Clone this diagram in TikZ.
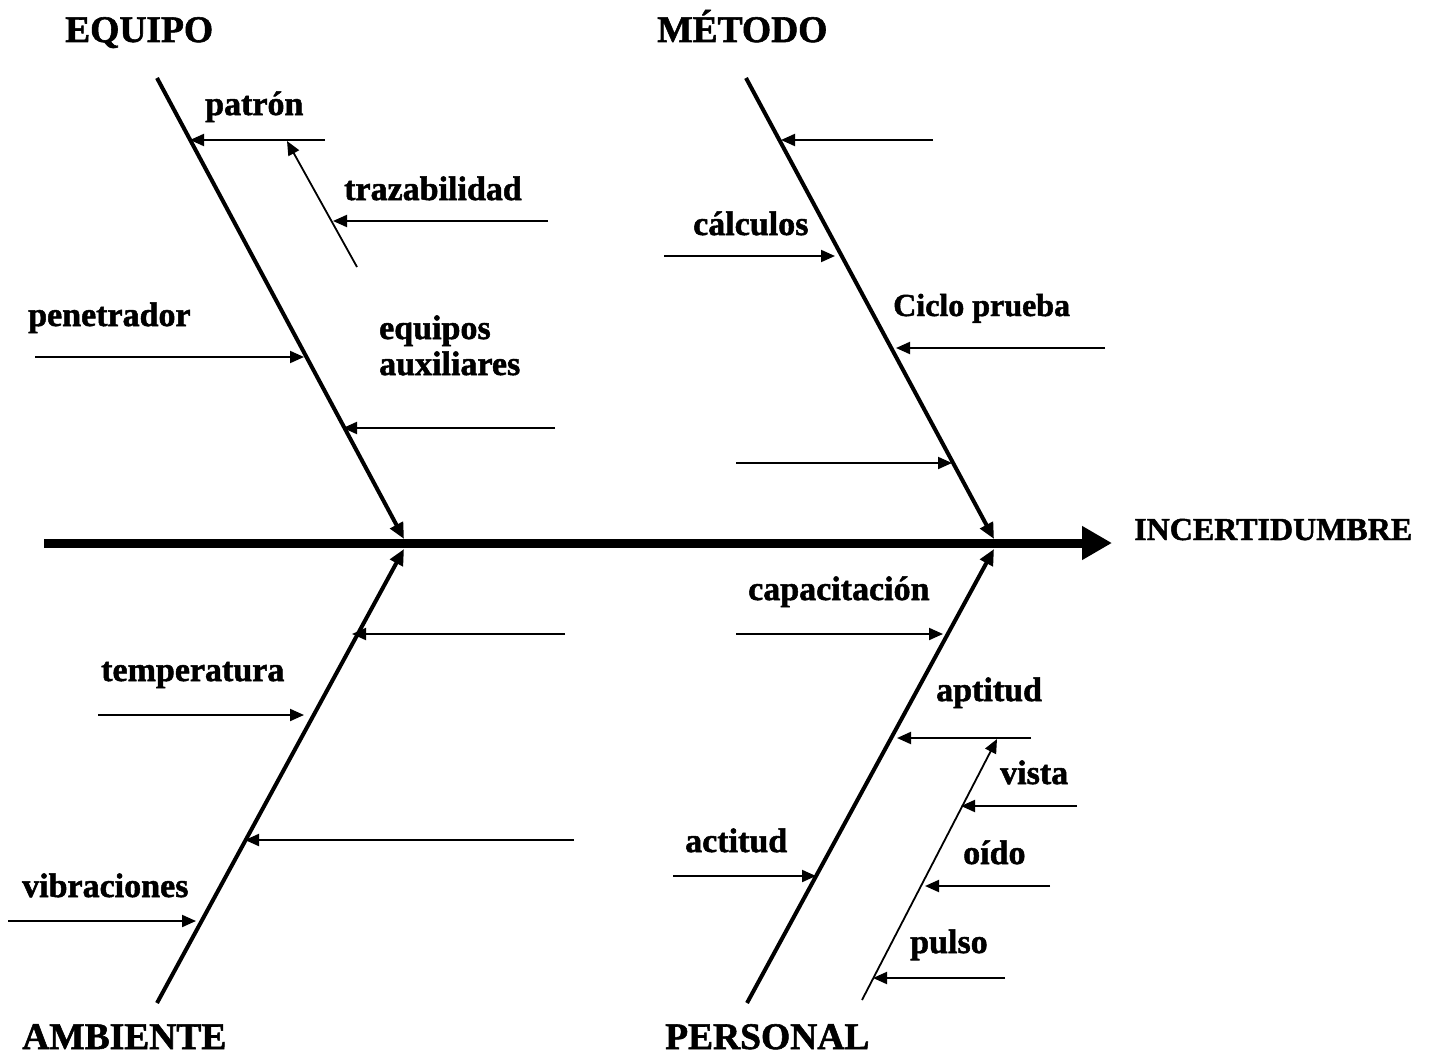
\documentclass[tikz,border=0pt]{standalone}
\usepackage{fontspec}
\setmainfont{Liberation Serif}[BoldFeatures={FakeBold=1.5}]
\usetikzlibrary{arrows.meta}
\begin{document}
\begin{tikzpicture}[x=1pt,y=-1pt,
  spine/.style={line width=9pt,-{Triangle[length=30pt,width=32pt]}},
  bone/.style={line width=4pt,-{Triangle[length=16pt,width=14pt]}},
  sub/.style={line width=2pt,-{Triangle[length=14pt,width=12pt]}},
  subbone/.style={line width=1.8pt,-{Triangle[length=14pt,width=12pt]}},
  big/.style={font=\bfseries\fontsize{37.5}{40}\selectfont,anchor=base west,inner sep=0pt},
  lbl/.style={font=\bfseries\fontsize{34}{37}\selectfont,anchor=base west,inner sep=0pt,align=left},
  small/.style={font=\bfseries\fontsize{32}{35}\selectfont,anchor=base west,inner sep=0pt}]
\useasboundingbox (0,0) rectangle (1429,1057);
% main spine
\coordinate (s0) at (44,543);
\coordinate (s1) at (1112,543);
\draw[spine] (s0) -- (s1);
\node[small] (inc) at (1134,540) {INCERTIDUMBRE};
% bones
\coordinate (eqA) at (157,78);  \coordinate (eqB) at (404,539);
\coordinate (meA) at (746,78);  \coordinate (meB) at (994,539);
\coordinate (amA) at (157,1003); \coordinate (amB) at (404,549);
\coordinate (peA) at (747,1003); \coordinate (peB) at (994,549);
\draw[bone] (eqA) -- (eqB);
\draw[bone] (meA) -- (meB);
\draw[bone] (amA) -- (amB);
\draw[bone] (peA) -- (peB);
\node[big] (tEq) at (65,42) {EQUIPO};
\node[big] (tMe) at (657,42) {MÉTODO};
\node[big] (tAm) at (22,1049) {AMBIENTE};
\node[big] (tPe) at (665,1049) {PERSONAL};
% EQUIPO
\coordinate (p1) at (325,140); \coordinate (p2) at (190,140);
\draw[sub] (p1) -- (p2);
\node[lbl] (patron) at (205,115) {patrón};
\coordinate (tz1) at (357,267); \coordinate (tz2) at (287,141);
\draw[subbone] (tz1) -- (tz2);
\coordinate (tr1) at (548,221); \coordinate (tr2) at (333,221);
\draw[sub] (tr1) -- (tr2);
\node[lbl] (traz) at (344,200) {trazabilidad};
\coordinate (pn1) at (35,357); \coordinate (pn2) at (304,357);
\draw[sub] (pn1) -- (pn2);
\node[lbl] (pen) at (28,326) {penetrador};
\coordinate (ea1) at (555,428); \coordinate (ea2) at (343,428);
\draw[sub] (ea1) -- (ea2);
\node[lbl] (equ) at (379,339) {equipos};
\node[lbl] (aux) at (379,375) {auxiliares};
% METODO
\coordinate (m1) at (933,140); \coordinate (m2) at (781,140);
\draw[sub] (m1) -- (m2);
\coordinate (c1) at (664,256); \coordinate (c2) at (835,256);
\draw[sub] (c1) -- (c2);
\node[lbl] (calc) at (693,235) {cálculos};
\coordinate (cp1) at (1105,348); \coordinate (cp2) at (896,348);
\draw[sub] (cp1) -- (cp2);
\node[small] (ciclo) at (893,316) {Ciclo prueba};
\coordinate (m41) at (736,463); \coordinate (m42) at (952,463);
\draw[sub] (m41) -- (m42);
% AMBIENTE
\coordinate (a11) at (565,634); \coordinate (a12) at (352,634);
\draw[sub] (a11) -- (a12);
\coordinate (t1) at (98,715); \coordinate (t2) at (304,715);
\draw[sub] (t1) -- (t2);
\node[lbl] (temp) at (101,681) {temperatura};
\coordinate (a31) at (574,840); \coordinate (a32) at (245,840);
\draw[sub] (a31) -- (a32);
\coordinate (v1) at (8,921); \coordinate (v2) at (196,921);
\draw[sub] (v1) -- (v2);
\node[lbl] (vib) at (22,897) {vibraciones};
% PERSONAL
\coordinate (ca1) at (736,634); \coordinate (ca2) at (943,634);
\draw[sub] (ca1) -- (ca2);
\node[lbl] (cap) at (748,600) {capacitación};
\coordinate (ap1) at (1031,738); \coordinate (ap2) at (897,738);
\draw[sub] (ap1) -- (ap2);
\node[lbl] (apt) at (936,701) {aptitud};
\coordinate (pb1) at (862,1000); \coordinate (pb2) at (997,739);
\draw[subbone] (pb1) -- (pb2);
\coordinate (vi1) at (1077,806); \coordinate (vi2) at (961,806);
\draw[sub] (vi1) -- (vi2);
\node[lbl] (vis) at (1000,784) {vista};
\coordinate (oi1) at (1050,886); \coordinate (oi2) at (925,886);
\draw[sub] (oi1) -- (oi2);
\node[lbl] (oid) at (963,864) {oído};
\coordinate (pu1) at (1005,978); \coordinate (pu2) at (873,978);
\draw[sub] (pu1) -- (pu2);
\node[lbl] (pul) at (910,953) {pulso};
\coordinate (ac1) at (673,876); \coordinate (ac2) at (816,876);
\draw[sub] (ac1) -- (ac2);
\node[lbl] (act) at (685,852) {actitud};
\end{tikzpicture}
\end{document}
